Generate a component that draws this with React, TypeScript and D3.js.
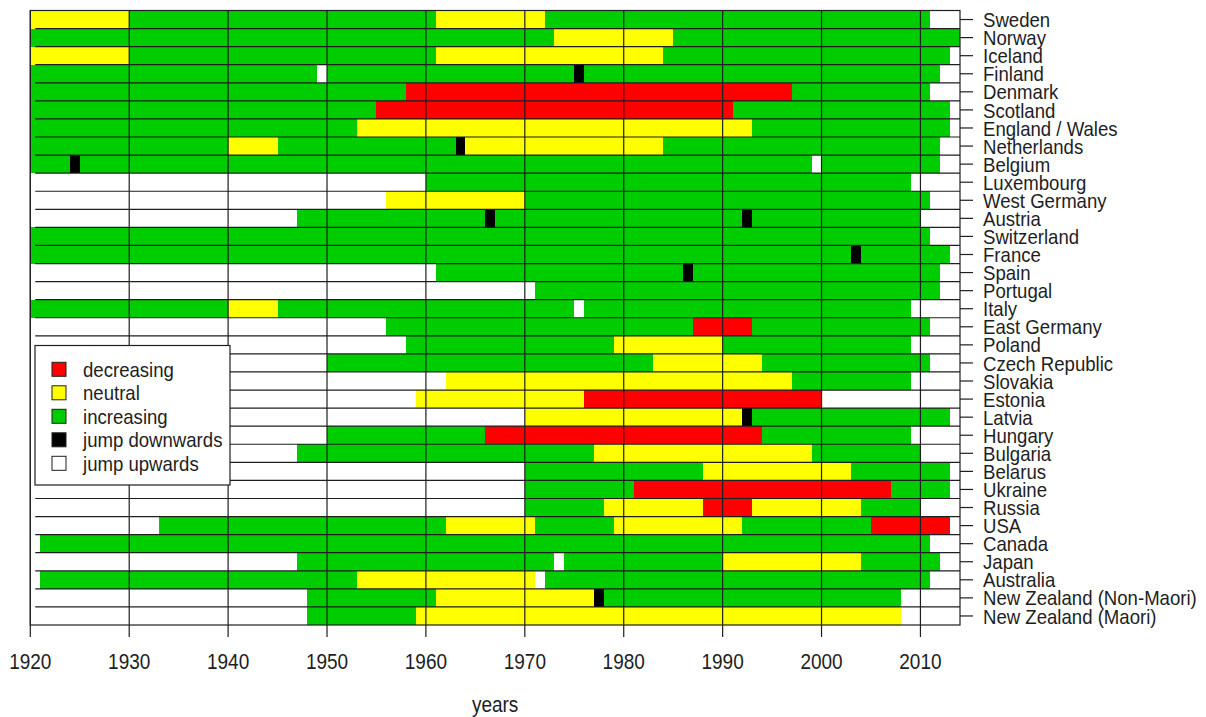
import React from "react";
import * as d3 from "d3";

// periods per country: "<state><start year>", each segment runs to the next start (or to the axis end)
// I = increasing, N = neutral, D = decreasing, J = jump downwards, U = jump upwards, - = no data
const countries = [
  "Sweden", "Norway", "Iceland", "Finland", "Denmark", "Scotland", "England / Wales",
  "Netherlands", "Belgium", "Luxembourg", "West Germany", "Austria", "Switzerland",
  "France", "Spain", "Portugal", "Italy", "East Germany", "Poland", "Czech Republic",
  "Slovakia", "Estonia", "Latvia", "Hungary", "Bulgaria", "Belarus", "Ukraine", "Russia",
  "USA", "Canada", "Japan", "Australia", "New Zealand (Non-Maori)", "New Zealand (Maori)",
];

const periods = [
  "N1920 I1930 N1961 I1972 -2011",
  "I1920 N1973 I1985",
  "N1920 I1930 N1961 I1984 -2013",
  "I1920 U1949 I1950 J1975 I1976 -2012",
  "I1920 D1958 I1997 -2011",
  "I1920 D1955 I1991 -2013",
  "I1920 N1953 I1993 -2013",
  "I1920 N1940 I1945 J1963 N1964 I1984 -2012",
  "I1920 J1924 I1925 U1999 I2000 -2012",
  "-1920 I1960 -2009",
  "-1920 N1956 I1970 -2011",
  "-1920 I1947 J1966 I1967 J1992 I1993 -2010",
  "I1920 -2011",
  "I1920 J2003 I2004 -2013",
  "-1920 I1961 J1986 I1987 -2012",
  "-1920 I1971 -2012",
  "I1920 N1940 I1945 U1975 I1976 -2009",
  "-1920 I1956 D1987 I1993 -2011",
  "-1920 I1958 N1979 I1990 -2009",
  "-1920 I1950 N1983 I1994 -2011",
  "-1920 N1962 I1997 -2009",
  "-1920 N1959 D1976 -2000",
  "-1920 N1970 J1992 I1993 -2013",
  "-1920 I1950 D1966 I1994 -2009",
  "-1920 I1947 N1977 I1999 -2010",
  "-1920 I1970 N1988 I2003 -2013",
  "-1920 I1970 D1981 I2007 -2013",
  "-1920 I1970 N1978 D1988 N1993 I2004 -2010",
  "-1920 I1933 N1962 I1971 N1979 I1992 D2005 -2013",
  "-1920 I1921 -2011",
  "-1920 I1947 U1973 I1974 N1990 I2004 -2012",
  "-1920 I1921 N1953 U1971 I1972 -2011",
  "-1920 I1948 N1961 J1977 I1978 -2008",
  "-1920 I1948 N1959 -2008",
];

const stateCodes = ["D", "N", "I", "J", "U"];
const stateNames = ["decreasing", "neutral", "increasing", "jump downwards", "jump upwards"];
const xTicks = [1920, 1930, 1940, 1950, 1960, 1970, 1980, 1990, 2000, 2010];
const xDomain = [1920, 2014];

const stateColor: Record<string, string> = {
  D: "#ff0000",
  N: "#ffff00",
  I: "#00cd00",
  J: "#000000",
  U: "#ffffff",
};

const W = 1206, H = 717;
const left = 30.3, right = 960, top = 10.5, bottom = 625;
const SY = 1.13; // the picture is slightly stretched vertically
const font = "'Liberation Sans', Arial, sans-serif";
const ink = "#1e1e1e";

function parse(s: string) {
  const parts = s.split(" ").map((p) => ({ code: p[0], start: +p.slice(1) }));
  return parts.map((p, i) => ({
    code: p.code,
    start: p.start,
    end: i < parts.length - 1 ? parts[i + 1].start : xDomain[1],
  }));
}

function Txt({ x, y, anchor = "start", size = 19, children }: any) {
  return (
    <text
      transform={`translate(${x},${y}) scale(1,${SY})`}
      textAnchor={anchor}
      fontFamily={font}
      fontSize={size}
      fill={ink}
    >
      {children}
    </text>
  );
}

export default function App() {
  const x = d3.scaleLinear().domain(xDomain).range([left, right]);
  const y = d3.scaleBand<string>().domain(countries).range([top, bottom]).padding(0);
  const bw = y.bandwidth();

  const lx = 35, ly = 345.5, lw = 195, lh = 139.5;

  return (
    <svg
      width={W}
      height={H}
      style={{ position: "absolute", left: 0, top: 0, background: "#fff" }}
    >
      {/* bars */}
      {countries.map((c, i) =>
        parse(periods[i])
          .filter((p) => p.code !== "-")
          .map((p, j) => (
            <rect
              key={c + j}
              x={x(p.start)}
              y={y(c)!}
              width={x(p.end) - x(p.start)}
              height={bw}
              fill={stateColor[p.code]}
              shapeRendering="crispEdges"
            />
          ))
      )}

      {/* row separators */}
      {countries.slice(1).map((c) => (
        <line
          key={"h" + c}
          x1={x(1920.5)}
          x2={right}
          y1={y(c)!}
          y2={y(c)!}
          stroke={ink}
          strokeWidth={1.2}
        />
      ))}

      {/* decade grid lines + ticks */}
      {xTicks.map((t) => (
        <line
          key={"v" + t}
          x1={x(t)}
          x2={x(t)}
          y1={top}
          y2={bottom + 12}
          stroke={ink}
          strokeWidth={1.2}
        />
      ))}

      {/* box */}
      <rect
        x={left}
        y={top}
        width={right - left}
        height={bottom - top}
        fill="none"
        stroke={ink}
        strokeWidth={1.2}
      />

      {/* x tick labels */}
      {xTicks.map((t) => (
        <Txt key={"xl" + t} x={x(t)} y={669} anchor="middle">
          {t}
        </Txt>
      ))}
      <Txt x={(left + right) / 2} y={712} anchor="middle">
        years
      </Txt>

      {/* right axis */}
      {countries.map((c) => {
        const cy = y(c)! + bw / 2;
        return (
          <g key={"r" + c}>
            <line x1={right} x2={right + 13} y1={cy} y2={cy} stroke={ink} strokeWidth={1.2} />
            <Txt x={983} y={cy + 7.6} size={18.6}>
              {c}
            </Txt>
          </g>
        );
      })}

      {/* legend */}
      <rect x={lx} y={ly} width={lw} height={lh} fill="#fff" stroke={ink} strokeWidth={1.2} />
      {stateNames.map((n, i) => {
        const cy = 369.3 + i * 23.5;
        return (
          <g key={"lg" + n}>
            <rect
              x={52}
              y={cy - 7}
              width={14}
              height={14}
              fill={stateColor[stateCodes[i]]}
              stroke={ink}
              strokeWidth={1}
            />
            <Txt x={83} y={cy + 7.4} size={18.6}>
              {n}
            </Txt>
          </g>
        );
      })}
    </svg>
  );
}
